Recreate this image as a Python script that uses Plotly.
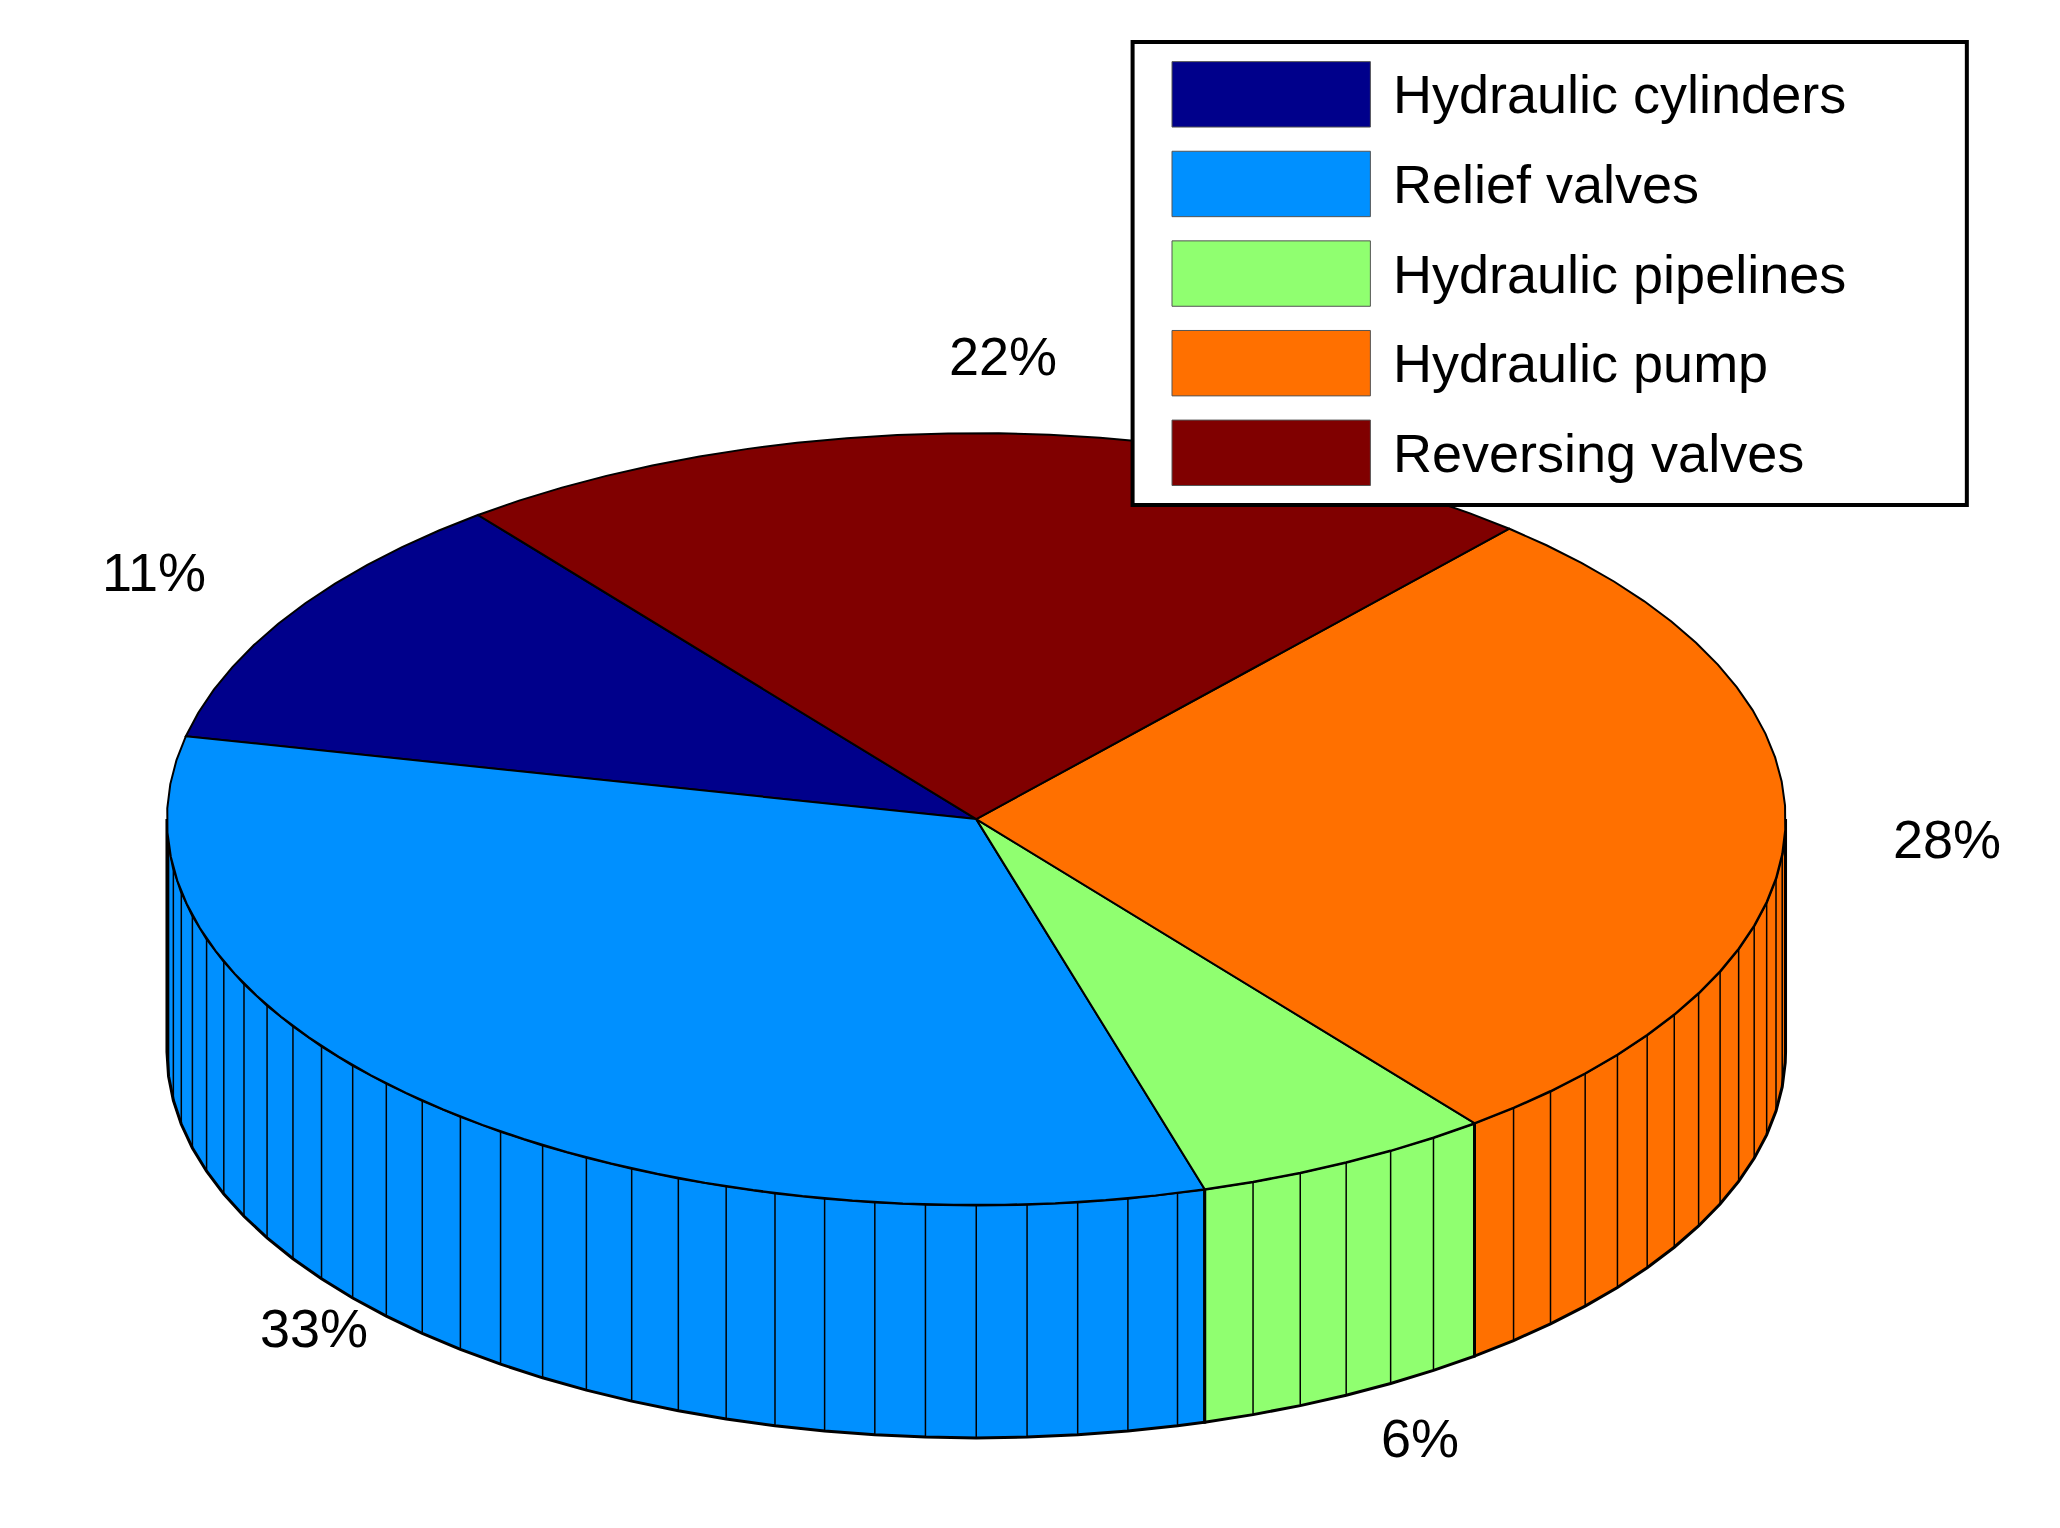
import numpy as np
import plotly.graph_objects as go

labels = ["Hydraulic cylinders", "Relief valves", "Hydraulic pipelines", "Hydraulic pump", "Reversing valves"]
values = [11, 33, 6, 28, 22]
colors = ["#00008b", "#0090ff", "#90ff70", "#ff7000", "#800000"]

# pie geometry in picture units (y grows downward)
cx, cy, rx, ry, depth = 737, 620, 616, 295, 178
start = 128.0
step = 3.6

def pt(a, drop=0):
    r = np.radians(a)
    return cx + rx * np.cos(r), cy - ry * np.sin(r) + drop

fig = go.Figure()
total = sum(values)
angles = [start]
for v in values:
    angles.append(angles[-1] + 360 * v / total)

tops = []
for i, v in enumerate(values):
    a0, a1 = angles[i], angles[i + 1]
    arc = np.append(np.arange(a0, a1, step), a1)
    # side wall (front half only)
    for k in range(2):
        lo, hi = max(a0, 180 + 360 * k), min(a1, 360 + 360 * k)
        if hi > lo:
            seg = np.append(np.arange(lo, hi, step), hi)
            xs_t, ys_t = zip(*[pt(a) for a in seg])
            xs_b, ys_b = zip(*[pt(a, depth) for a in seg[::-1]])
            fig.add_trace(go.Scatter(x=list(xs_t) + list(xs_b) + [xs_t[0]],
                                     y=list(ys_t) + list(ys_b) + [ys_t[0]],
                                     fill="toself", fillcolor=colors[i], mode="lines",
                                     line=dict(color="black", width=3), hoverinfo="skip"))
            vx, vy = [], []
            for a in seg:
                x0, y0 = pt(a)
                x1, y1 = pt(a, depth)
                vx += [x0, x1, None]
                vy += [y0, y1, None]
            fig.add_trace(go.Scatter(x=vx, y=vy, mode="lines",
                                     line=dict(color="black", width=1.5), hoverinfo="skip"))
    xs, ys = zip(*[pt(a) for a in arc])
    tops.append(go.Scatter(x=[cx] + list(xs) + [cx], y=[cy] + list(ys) + [cy],
                           fill="toself", fillcolor=colors[i], mode="lines",
                           line=dict(color="black", width=2), hoverinfo="skip"))
    mid = np.radians((a0 + a1) / 2)
    lx = cx + 1.2 * rx * np.cos(mid)
    ly = cy - 1.2 * ry * np.sin(mid) + depth * max(0, -np.sin(mid))
    fig.add_annotation(x=lx, y=ly, text=f"{round(v / total * 100)}%", showarrow=False,
                       font=dict(size=54, color="black"))

for t in tops:
    fig.add_trace(t)

# legend box
fig.add_shape(type="rect", x0=856, x1=1491, y0=26, y1=380, line=dict(color="black", width=4),
              fillcolor="white", layer="above")
for i, lab in enumerate(labels):
    yc = 66 + i * 68.5
    fig.add_shape(type="rect", x0=886, x1=1037, y0=yc - 25, y1=yc + 25, fillcolor=colors[i],
                  line=dict(color="#555", width=1), layer="above")
    fig.add_annotation(x=1053, y=yc, text=lab, showarrow=False, xanchor="left",
                       font=dict(size=54, color="black"))

fig.update_layout(width=2060, height=1528, showlegend=False, plot_bgcolor="white",
                  paper_bgcolor="white", margin=dict(l=0, r=0, t=0, b=0),
                  font=dict(family="Liberation Sans, Arial"),
                  xaxis=dict(range=[0, 1568], visible=False),
                  yaxis=dict(range=[1168, 0], visible=False))
fig.write_html("out.html")
